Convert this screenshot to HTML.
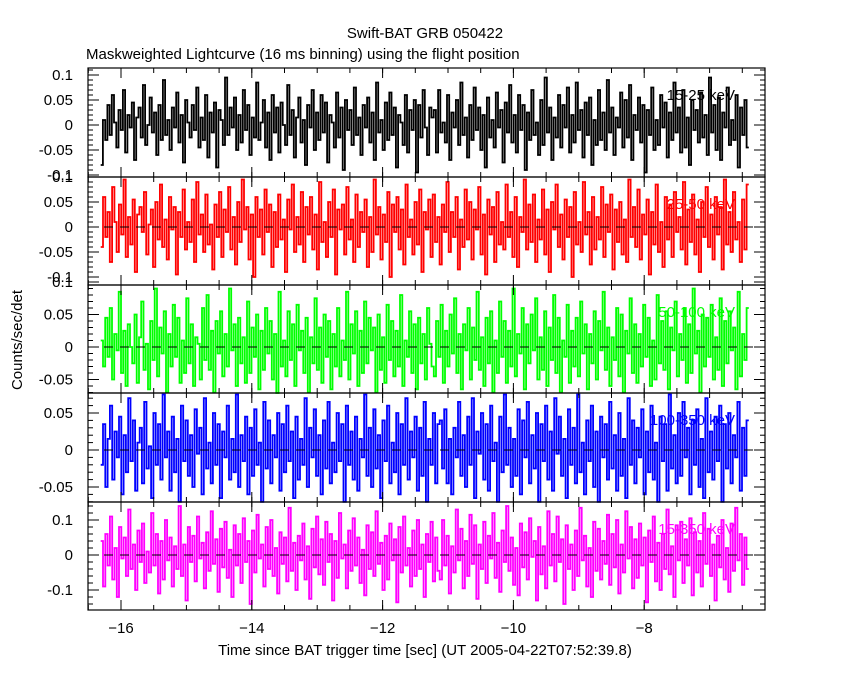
<!DOCTYPE html>
<html><head><meta charset="utf-8"><style>
body{margin:0;background:#fff;}
svg text{font-family:"Liberation Sans",sans-serif;}
</style></head><body>
<svg id="c" width="850" height="680" xmlns="http://www.w3.org/2000/svg">
<rect width="850" height="680" fill="#fff"/>
<text x="425" y="38" font-size="15" text-anchor="middle">Swift-BAT GRB 050422</text>
<text x="86" y="59" font-size="15">Maskweighted Lightcurve (16 ms binning) using the flight position</text>
<text x="425" y="655" font-size="15" text-anchor="middle">Time since BAT trigger time [sec] (UT 2005-04-22T07:52:39.8)</text>
<text transform="translate(22,340) rotate(-90)" font-size="15" text-anchor="middle">Counts/sec/det</text>
<g id="g"></g>
</svg>
<script>
// Rates in units of 1e-3 counts/sec/det
const rate1=[-80,10,-30,40,-20,60,5,-45,30,-10,70,-55,20,-5,45,-70,15,35,-25,80,-40,0,55,-15,25,-60,40,-30,90,-20,10,-50,35,-5,65,-35,20,-75,50,5,-25,40,-10,75,-45,15,-30,60,-65,25,-15,45,-85,30,10,-40,95,-20,35,-5,55,-50,20,-35,70,-10,40,-60,15,-25,85,-30,5,50,-45,25,-70,60,-15,35,-55,45,0,-40,80,-20,30,-65,15,55,-35,10,-80,40,-5,70,-50,25,-30,60,-15,45,-75,20,5,-45,65,-25,35,-90,50,-10,30,-40,75,-20,15,-60,40,-5,55,-35,25,-70,85,-15,10,-50,45,-30,65,-20,35,-85,20,5,-40,60,-55,30,-10,50,-95,40,-25,70,-5,-60,35,15,
 30,-55,70,-15,5,-35,60,-70,25,-5,50,-40,85,-20,15,-65,40,-30,75,-10,35,-50,20,-85,55,-25,10,-45,65,-5,30,-75,45,-15,80,-35,20,-55,60,-10,40,-90,25,-30,70,-20,5,-60,50,-40,95,-15,35,-70,15,-25,60,-45,40,-5,75,-55,20,-35,85,-10,30,-65,45,-20,55,-80,10,-40,70,-30,25,-50,90,-15,35,-60,15,-5,65,-45,50,-25,80,-70,20,-10,55,-35,40,-95,30,-20,75,-50,10,-40,60,-5,45,-65,25,-30,85,-15,35,-55,70,-45,15,-80,50,-10,30,-35,65,-25,20,-60,95,-15,40,-50,55,-70,25,-5,75,-40,10,-30,60,-85,35,-20,50,-45];
const rate2=[-40,60,-20,30,-70,80,10,-50,45,-15,95,-60,20,-35,55,-90,25,40,-10,70,-55,5,35,-80,50,-25,85,-40,15,-65,60,-5,40,-95,30,-20,75,-45,10,-30,55,-70,90,-15,25,-50,65,-35,5,-85,45,-20,70,-60,35,-10,80,-45,20,-75,50,-30,95,-5,40,-65,25,-100,60,-20,35,-55,75,-10,45,-80,30,-40,65,-25,15,-90,55,-5,85,-50,20,-35,70,-70,40,-15,60,-45,25,-85,90,-30,10,-60,50,-20,75,-95,35,-5,45,-55,80,-25,15,-70,65,-40,30,-10,55,-80,20,-50,95,-15,40,-65,25,-30,70,-100,45,-10,60,-45,35,-75,85,-20,15,-55,50,-35,75,-90,30,-5,55,-60,
 65,-30,20,-75,45,-10,90,-50,30,-20,60,-85,15,-40,75,-25,50,-65,35,-5,80,-55,25,-95,55,-15,40,-70,70,-35,10,-45,85,-20,30,-60,60,-80,20,-10,95,-45,45,-30,65,-70,15,-25,75,-55,35,-90,50,-5,85,-40,25,-65,55,-20,40,-100,70,-35,10,-50,90,-15,30,-75,60,-45,20,-25,80,-60,45,-10,65,-85,35,-30,50,-55,15,-70,95,-20,40,-40,75,-65,25,-15,55,-95,30,-35,85,-50,10,-80,60,-25,45,-60,70,-10,20,-45,90,-75,35,-30,65,-55,15,-90,50,-20,80,-40,25,-65,60,-15,40,-85,95,-35,30,-50,70,-25,10,-70,55,-45,85];
const rate3=[10,-30,45,-15,60,-50,20,-5,85,-40,25,-60,35,0,-25,50,-55,15,70,-35,5,-65,40,-20,90,-45,30,-10,55,-70,20,-30,65,-15,45,-55,10,-40,75,-25,35,-60,15,5,-50,60,-20,80,-35,25,-70,40,-10,55,-45,20,-30,90,-5,35,-60,45,-25,15,-55,70,-40,30,-15,50,-65,25,-35,60,-10,40,-50,20,-75,85,-30,10,-45,55,-20,35,-60,65,-5,25,-40,45,-70,15,-25,75,-35,30,-55,50,-15,40,-65,20,-30,60,-45,10,-20,85,-50,35,-10,55,-60,25,-40,70,-25,45,-5,30,-70,50,-35,15,-55,65,-20,40,-45,25,-30,80,-60,10,-15,55,-40,35,-65,45,-25,20,-50,60,5,-30,
 -45,40,-15,65,-55,25,-30,50,-10,75,-40,20,-65,35,-5,60,-50,30,-20,85,-35,15,-60,45,-25,55,-70,10,-40,70,-15,40,-55,25,-30,90,-45,20,-10,60,-65,35,-25,50,-5,75,-50,15,-35,55,-60,30,-20,80,-40,45,-70,10,-15,65,-55,25,-30,45,-45,70,-10,35,-65,20,-25,55,-50,40,-5,85,-35,30,-60,15,-20,60,-45,50,-70,25,-10,75,-40,35,-55,20,-30,65,-15,45,-60,10,-50,80,-25,40,-35,55,-65,30,-5,70,-45,20,-20,60,-55,35,-40,90,-10,25,-70,50,-30,45,-15,65,-50,15,-35,75,-60,40,-25,55,-5,30,-65,85,-45,20,-20,60];
const rate4=[-20,35,-50,15,60,-40,25,-10,45,-60,20,-30,70,-15,40,-55,10,30,-45,65,-25,5,-65,50,-20,35,-40,75,-10,25,-55,45,-30,15,-70,60,-15,40,-35,20,-50,55,-5,30,-60,70,-25,10,-45,50,-20,35,-65,25,-10,60,-40,15,-30,75,-50,20,-15,45,-60,30,-35,55,-20,10,-70,65,-25,40,-45,20,-10,50,-55,35,-30,60,-15,25,-65,45,-40,15,-20,70,-50,30,-10,55,-35,20,-60,40,-25,65,-45,10,-30,50,-15,35,-70,60,-20,25,-40,45,-55,15,-10,75,-35,30,-50,55,-25,20,-65,40,-15,60,-45,10,-30,50,-60,35,-20,70,-40,25,-10,45,-55,30,-35,65,-70,15,-20,50,-45,35,
 40,-25,55,-45,15,-60,30,-10,65,-35,20,-50,45,-20,70,-65,25,-5,50,-40,35,-55,60,-15,10,-70,45,-30,75,-20,30,-50,15,-35,55,-60,40,-10,65,-45,20,-25,50,-70,35,-15,60,-40,25,-55,70,-5,45,-35,15,-65,55,-20,30,-45,75,-30,10,-60,40,-15,60,-50,25,-70,45,-10,35,-40,65,-25,20,-55,50,-35,15,-65,70,-20,40,-45,30,-10,55,-60,25,-30,60,-40,10,-70,45,-15,35,-55,75,-25,20,-45,50,-35,65,-10,30,-60,40,-20,55,-50,15,-65,70,-30,25,-40,45,-15,60,-70,35,-25,50,-45,20,-10,65,-55,30,-35,40];
const rate5=[40,-90,60,-30,110,-70,20,-120,80,-10,50,-60,130,-40,30,-100,70,-20,90,-80,10,-50,120,-30,60,-110,40,-70,100,-15,50,-90,25,-40,140,-60,30,-130,80,-20,55,-75,110,-10,35,-95,65,-45,125,-25,45,-105,75,-35,95,-65,15,-120,85,-30,60,-80,105,-20,40,-140,70,-50,115,-10,30,-90,80,-40,100,-60,20,-110,65,-25,50,-75,135,-45,35,-100,55,-15,90,-70,25,-125,75,-35,110,-55,45,-85,95,-20,60,-130,40,-65,120,-10,30,-95,70,-45,105,-30,50,-80,15,-115,85,-40,65,-60,125,-25,35,-100,55,-70,90,-15,45,-135,80,-50,110,-30,20,-90,70,-60,100,-40,30,-120,60,-20,95,-75,50,-45,
 -70,100,-30,55,-110,25,-50,130,-15,75,-95,40,-60,115,-25,85,-125,30,-40,95,-80,55,-10,120,-65,35,-105,70,-20,140,-45,50,-85,20,-115,90,-35,65,-70,105,-5,40,-130,80,-55,25,-95,125,-30,60,-75,110,-20,45,-140,85,-40,30,-100,70,-60,135,-15,55,-90,20,-120,95,-45,75,-70,40,-25,115,-85,60,-35,100,-110,30,-50,125,-10,80,-95,45,-65,90,-30,50,-135,70,-20,110,-75,35,-100,60,-40,130,-55,25,-120,85,-15,95,-80,45,-30,105,-115,65,-50,40,-90,120,-25,75,-60,30,-130,55,-35,100,-70,20,-105,90,-45,135,-15,60,-85,50,-40];
const bandLabels=["15-25 keV","25-50 keV","50-100 keV","100-350 keV","15-350 keV"];
const xTicks=[-16,-14,-12,-10,-8];
const tStart=-16.31, tEnd=-6.40;

const NS="http://www.w3.org/2000/svg";
const g=document.getElementById('g');
const X0=88,X1=765;
const xs=t=>121+(t+16)*65.4;
function mk(tag,attrs,name,parent){const e=document.createElementNS(NS,tag);for(const k in attrs)e.setAttribute(k,attrs[k]);


(parent||g).appendChild(e);return e;}
const panels=[
 {top:68,bot:177,y0:125,ppu:500,data:rate1,color:"#000",ticks:[-0.1,-0.05,0,0.05,0.1],minor:0.01,dash:false},
 {top:177,bot:285,y0:227,ppu:500,data:rate2,color:"#f00",ticks:[-0.1,-0.05,0,0.05,0.1],minor:0.01,dash:true},
 {top:285,bot:393,y0:347,ppu:650,data:rate3,color:"#0f0",ticks:[-0.05,0,0.05,0.1],minor:0.01,dash:true},
 {top:393,bot:502,y0:450,ppu:740,data:rate4,color:"#00f",ticks:[-0.05,0,0.05],minor:0.01,dash:true},
 {top:502,bot:610,y0:555,ppu:350,data:rate5,color:"#f0f",ticks:[-0.1,0,0.1],minor:0.02,dash:true}];
panels.forEach((p,i)=>{
 const ys=v=>p.y0-v*p.ppu;
 const n=p.data.length, dt=(tEnd-tStart)/n;
 let d="";
 p.data.forEach((v,k)=>{const y=Math.max(p.top,Math.min(p.bot,ys(v/1000)));const xa=xs(tStart+k*dt),xb=xs(tStart+(k+1)*dt);
  d+=(k?"L":"M")+xa.toFixed(1)+","+y.toFixed(1)+"L"+xb.toFixed(1)+","+y.toFixed(1);});
 mk('path',{d:d,fill:"none",stroke:p.color,"stroke-width":1.8},'series-'+(i+1));
 if(p.dash)mk('line',{x1:X0,x2:X1,y1:p.y0,y2:p.y0,stroke:"#000","stroke-dasharray":"9,7"},'zero-line-'+(i+1));
 mk('rect',{x:X0,y:p.top,width:X1-X0,height:p.bot-p.top,fill:"none",stroke:"#000","stroke-width":1.2},'panel-frame-'+(i+1));
 const lo=(p.bot-p.y0)/-p.ppu, hi=(p.y0-p.top)/p.ppu;
 for(let v=Math.ceil(lo/p.minor)*p.minor;v<=hi+1e-9;v+=p.minor){const y=ys(v);
  mk('line',{x1:X0,x2:X0+5,y1:y,y2:y,stroke:"#000"},'y-minor-tick');mk('line',{x1:X1,x2:X1-5,y1:y,y2:y,stroke:"#000"},'y-minor-tick');}
 p.ticks.forEach(v=>{const y=ys(v);
  mk('line',{x1:X0,x2:X0+11,y1:y,y2:y,stroke:"#000"},'y-major-tick');mk('line',{x1:X1,x2:X1-11,y1:y,y2:y,stroke:"#000"},'y-major-tick');
  const t=mk('text',{x:73,y:y+5,"font-size":15,"text-anchor":"end"},'y-tick-label');t.textContent=String(v);});
 xTicks.forEach(t=>{const x=xs(t);mk('line',{x1:x,x2:x,y1:p.bot,y2:p.bot-10,stroke:"#000"},'x-major-tick');mk('line',{x1:x,x2:x,y1:p.top,y2:p.top+10,stroke:"#000"},'x-major-tick');});
 for(let t=-16.5;t<=-6;t+=0.5){const x=xs(t);if(x<X0||x>X1)continue;mk('line',{x1:x,x2:x,y1:p.bot,y2:p.bot-5,stroke:"#000"},'x-minor-tick');mk('line',{x1:x,x2:x,y1:p.top,y2:p.top+5,stroke:"#000"},'x-minor-tick');}
 const lb=mk('text',{x:735,y:p.top+32,"font-size":15,"text-anchor":"end",fill:p.color},'band-label-'+(i+1));lb.textContent=bandLabels[i];
});
xTicks.forEach(t=>{const e=mk('text',{x:xs(t),y:633,"font-size":15,"text-anchor":"middle"},'x-tick-label');e.textContent=String(t).replace('-','\u2212');});
</script>
</body></html>
